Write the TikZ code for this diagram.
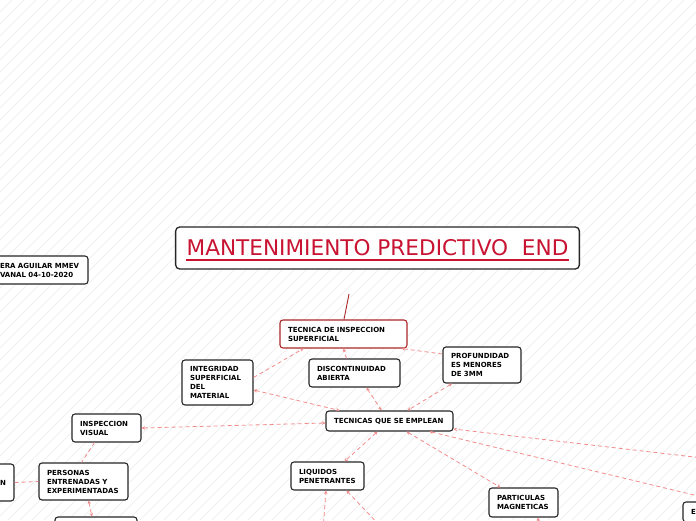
\documentclass[tikz,border=0pt]{standalone}
\usepackage{fontspec}
\setmainfont{DejaVu Sans}
\usetikzlibrary{calc,arrows.meta}
\definecolor{titlered}{RGB}{200,20,50}
\definecolor{linkred}{RGB}{242,140,140}
\definecolor{boxred}{RGB}{170,40,40}
\definecolor{hatchgray}{RGB}{236,236,236}
\begin{document}
\begin{tikzpicture}[x=1pt,y=-1pt,
  box/.style={draw=black!85, line width=1.1pt, rounded corners=3pt, fill=white,
    inner xsep=8pt, inner ysep=2pt, align=left,
    font=\fontsize{7}{9}\selectfont\bfseries},
  link/.style={draw=linkred, line width=0.8pt, dash pattern=on 4pt off 3pt},
  >={Stealth[length=3.5pt,width=3.5pt]}
]
\useasboundingbox (0,0) rectangle (696,520);
\clip (0,0) rectangle (696,520);
\fill[white] (0,0) rectangle (696,520);
\foreach \i in {-520,-508,...,700} \draw[hatchgray, line width=0.4pt] (\i,520) -- ({\i+520},0);

% title
\node[draw=black!85, line width=1.3pt, rounded corners=4pt, fill=white, inner xsep=11pt,
  minimum height=42pt, text=titlered, font=\fontsize{21.6}{26}\selectfont] (title) at (377.5,248)
  {MANTENIMIENTO PREDICTIVO\ \ END};
\draw[titlered, line width=1.5pt] ($(title.base west)+(11,4)$) -- ($(title.base east)+(-11,4)$);

% nodes
\node[box, draw=boxred, text width=111pt, minimum height=28pt] (tecnica) at (343.5,334) {TECNICA DE INSPECCION\\SUPERFICIAL};
\node[box, text width=55pt, minimum height=45pt] (integ) at (217.5,382.5) {INTEGRIDAD\\SUPERFICIAL\\DEL\\MATERIAL};
\node[box, text width=75pt, minimum height=28pt] (discont) at (354.5,373) {DISCONTINUIDAD\\ABIERTA};
\node[box, text width=62pt, minimum height=36pt] (profund) at (482,365) {PROFUNDIDAD\\ES MENORES\\DE 3MM};
\node[box, text width=111pt, minimum height=20pt] (tecnicas) at (389.5,421) {TECNICAS QUE SE EMPLEAN};
\node[box, text width=53pt, minimum height=28pt] (visual) at (106.5,428) {INSPECCION\\VISUAL};
\node[box, text width=73pt, minimum height=37pt] (personas) at (83.5,481.5) {PERSONAS\\ENTRENADAS Y\\EXPERIMENTADAS};
\node[box, text width=28pt, minimum height=37pt, align=right] (nnode) at (-8,482.5) {N};
\node[box, text width=80pt, minimum height=28pt] (leftnode) at (40,270) {ERA AGUILAR MMEV\\VANAL 04-10-2020};
\node[box, text width=66pt, minimum height=28pt] (bottomleft) at (96,531) {};
\node[box, text width=57pt, minimum height=28pt] (liquidos) at (327.5,476) {LIQUIDOS\\PENETRANTES};
\node[box, text width=53pt, minimum height=29pt] (particulas) at (523.5,502.5) {PARTICULAS\\MAGNETICAS};
\node[box, text width=60pt, minimum height=20pt] (enode) at (721,512) {E};

% free ends
\coordinate (tstart) at (349,294);
\coordinate (lq1) at (323,530);
\coordinate (lq2) at (384,530);
\coordinate (rightend) at (720,460);
\coordinate (pdown) at (540,535);

% connectors
\draw[boxred, line width=0.9pt] (tstart) -- ($(tecnica.north)+(0.5,0)$);
\draw[link,<->] ($(integ.east)+(0,7.5)$) -- ($(tecnicas.north)+(-50,0)$);
\draw[link,->] ($(integ.east)+(0,-5)$) -- ($(tecnica.south)+(-40,0)$);
\draw[link,->] ($(discont.north)+(-8,0)$) -- (tecnica.south);
\draw[link,->] ($(profund.west)+(0,-11)$) -- ($(tecnica.south east)+(-6,0)$);
\draw[link,<->] ($(discont.south)+(12,0)$) -- ($(tecnicas.north)+(-8,0)$);
\draw[link,<->] ($(profund.south)+(-30,0)$) -- ($(tecnicas.north)+(18,0)$);
\draw[link,<->] (visual.east) -- ($(tecnicas.west)+(0,2)$);
\draw[link] ($(visual.south)+(-12,0)$) -- ($(personas.north)+(-2,0)$);
\draw[link] (nnode.east) -- (personas.west);
\draw[link,<->] ($(personas.south)+(5,0)$) -- ($(bottomleft.north)+(-4,0)$);
\draw[link,<->] ($(tecnicas.south)+(-12,0)$) -- ($(liquidos.north)+(17,0)$);
\draw[link,->] (lq1) -- ($(liquidos.south)+(-1.5,0)$);
\draw[link,->] (lq2) -- ($(liquidos.south)+(19,0)$);
\draw[link,<->] ($(tecnicas.south)+(17,0)$) -- ($(particulas.north)+(-23,0)$);
\draw[link,->] (rightend) -- ($(tecnicas.east)+(0,8)$);
\draw[link,<-] ($(tecnicas.south)+(40,0)$) -- (enode.north);
\draw[link,->] (pdown) -- ($(particulas.south)+(14.5,0)$);
\end{tikzpicture}
\end{document}
